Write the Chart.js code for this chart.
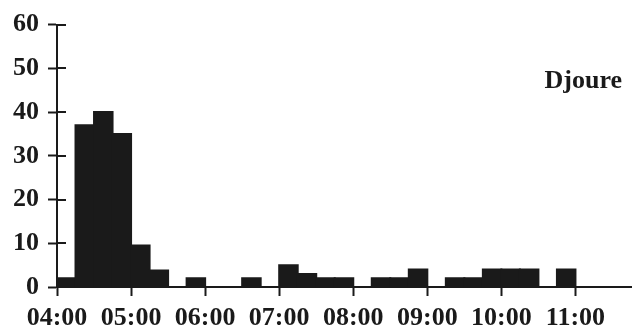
<!DOCTYPE html>
<html>
<head>
<meta charset="utf-8">
<script src="https://cdn.jsdelivr.net/npm/chart.js@4.4.1/dist/chart.umd.min.js"></script>
<style>
  html, body { margin: 0; padding: 0; background: #fff; }
  #wrap { width: 640px; height: 331px; position: relative; }
</style>
</head>
<body>
<div id="wrap"><canvas id="arrivals"></canvas></div>
<script>
// 15-minute bins, start time of each bin
const slotStarts = [
  '04:00', '04:15', '04:30', '04:45', '05:00', '05:15', '05:30', '05:45',
  '06:00', '06:15', '06:30', '06:45', '07:00', '07:15', '07:30', '07:45',
  '08:00', '08:15', '08:30', '08:45', '09:00', '09:15', '09:30', '09:45',
  '10:00', '10:15', '10:30', '10:45', '11:00', '11:15', '11:30'
];
const counts = [
  2, 37, 40, 35, 9.5, 3.8, 0, 2,
  0, 0, 2, 0, 5, 3, 2, 2,
  0, 2, 2, 4, 0, 2, 2, 4,
  4, 4, 0, 4, 0, 0, 0
];
const hourLabels = ['04:00', '05:00', '06:00', '07:00', '08:00', '09:00', '10:00', '11:00'];
const yTicks = [0, 10, 20, 30, 40, 50, 60];
const siteName = 'Djoure';

const INK = '#1a1a1a';
const FONT = 'bold 26px "Liberation Serif"';

function toHours(hhmm) {
  const [h, m] = hhmm.split(':').map(Number);
  return h + m / 60;
}

const points = slotStarts.map((s, i) => ({ x: toHours(s) + 0.125, y: counts[i] }));

// y ticks cross the axis: the outer half comes from Chart.js, the inner half from here
const innerTicks = {
  id: 'innerTicks',
  afterDraw(chart) {
    const { ctx, scales: { y }, chartArea } = chart;
    ctx.save();
    ctx.strokeStyle = INK;
    ctx.lineWidth = 2;
    yTicks.forEach(v => {
      const py = Math.round(y.getPixelForValue(v));
      ctx.beginPath();
      ctx.moveTo(chartArea.left, py);
      ctx.lineTo(chartArea.left + 9, py);
      ctx.stroke();
    });
    ctx.font = FONT;
    ctx.fillStyle = INK;
    ctx.textAlign = 'right';
    ctx.textBaseline = 'alphabetic';
    ctx.fillText(siteName, chartArea.right - 9, chartArea.top + 63);
    ctx.restore();
  }
};

new Chart(document.getElementById('arrivals'), {
  type: 'bar',
  data: {
    datasets: [{
      data: points,
      backgroundColor: INK,
      borderWidth: 0,
      inflateAmount: 1,
      barPercentage: 1,
      categoryPercentage: 1
    }]
  },
  options: {
    responsive: true,
    maintainAspectRatio: false,
    animation: false,
    layout: { padding: { top: 15, right: 9, left: 0, bottom: 0 } },
    plugins: { legend: { display: false }, tooltip: { enabled: false } },
    scales: {
      x: {
        type: 'linear',
        min: 4,
        max: 11.75,
        offset: false,
        afterBuildTicks: axis => { axis.ticks = hourLabels.map(toHours).map(v => ({ value: v })); },
        afterFit: axis => { axis.height = 44; },
        ticks: {
          callback: (v) => hourLabels[Math.round(v) - 4],
          color: INK,
          font: { family: 'Liberation Serif', size: 26, weight: 'bold' },
          padding: 7,
          maxRotation: 0,
          autoSkip: false
        },
        grid: { offset: false, drawOnChartArea: false, drawTicks: true, tickLength: 9, tickColor: INK, tickWidth: 2 },
        border: { display: true, color: INK, width: 2 }
      },
      y: {
        min: 0,
        max: 60,
        afterBuildTicks: axis => { axis.ticks = yTicks.map(v => ({ value: v })); },
        afterFit: axis => { axis.width = 57; },
        ticks: {
          color: INK,
          font: { family: 'Liberation Serif', size: 26, weight: 'bold' },
          padding: 9
        },
        grid: { drawOnChartArea: false, drawTicks: true, tickLength: 9, tickColor: INK, tickWidth: 2 },
        border: { display: true, color: INK, width: 2 }
      }
    }
  },
  plugins: [innerTicks]
});
</script>
</body>
</html>
